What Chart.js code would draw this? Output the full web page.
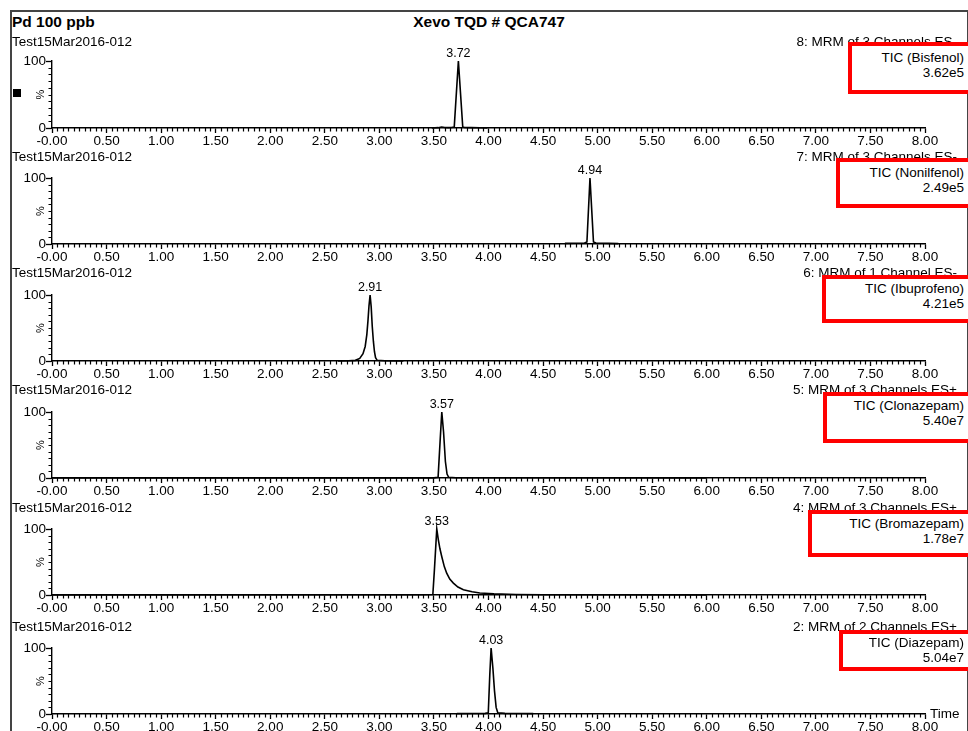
<!DOCTYPE html>
<html>
<head>
<meta charset="utf-8">
<script src="https://cdn.jsdelivr.net/npm/chart.js@4.4.1/dist/chart.umd.min.js"></script>
<style>
  html, body { margin: 0; padding: 0; background: #fff; }
  #page { position: relative; width: 968px; height: 731px; overflow: hidden; background: #fff;
          font-family: "Liberation Sans", Arial, sans-serif; color: #000; }
  #page canvas { position: absolute; left: 0; }
  .t { position: absolute; height: 16px; line-height: 16px; font-size: 13.5px; white-space: nowrap; }
  .b { font-weight: bold; font-size: 15.5px; }
  .box { position: absolute; border: 4px solid #f00; background: #fff; box-sizing: border-box; }
</style>
</head>
<body>
<div id="page"></div>
<script>
// ---- data ----
var xTickLabels = ['-0.00','0.50','1.00','1.50','2.00','2.50','3.00','3.50','4.00',
                   '4.50','5.00','5.50','6.00','6.50','7.00','7.50','8.00'];
var yTickLabels = ['0', '100'];

var sampleName = 'Test15Mar2016-012';
var functionNames = ['8: MRM of 3 Channels ES-', '7: MRM of 3 Channels ES-', '6: MRM of 1 Channel ES-',
                     '5: MRM of 3 Channels ES+', '4: MRM of 3 Channels ES+', '2: MRM of 2 Channels ES+'];
var compounds = ['TIC (Bisfenol)', 'TIC (Nonilfenol)', 'TIC (Ibuprofeno)',
                 'TIC (Clonazepam)', 'TIC (Bromazepam)', 'TIC (Diazepam)'];
var intensities = ['3.62e5', '2.49e5', '4.21e5', '5.40e7', '1.78e7', '5.04e7'];
var peakLabels = ['3.72', '4.94', '2.91', '3.57', '3.53', '4.03'];

var bisfenolTime = [3.48, 3.54, 3.57, 3.60, 3.63, 3.66, 3.686, 3.724, 3.764, 3.78, 3.84, 3.92, 3.99];
var bisfenolPct  = [0, 0.5, 1.5, 0.8, 0.5, 0.8, 1.5, 100, 1.5, 0.8, 0.5, 0.3, 0];

var nonilfenolTime = [4.70, 4.80, 4.88, 4.902, 4.93, 4.962, 4.985, 5.10, 5.19];
var nonilfenolPct  = [1, 1.2, 1.5, 3, 100, 3, 1.5, 1, 0.5];

var ibuprofenoTime = [2.62, 2.72, 2.78, 2.82, 2.85, 2.87, 2.885, 2.895, 2.905, 2.915,
                      2.925, 2.935, 2.945, 2.955, 2.965, 2.98, 3.05, 3.22];
var ibuprofenoPct  = [0, 0.3, 1, 4, 11, 22, 40, 60, 84, 100, 82, 52, 30, 14, 5, 1, 0.3, 0];

var clonazepamTime = [0, 3.50, 3.538, 3.558, 3.572, 3.588, 3.605, 3.62, 3.635, 3.70, 6.00];
var clonazepamPct  = [0, 0.2, 1, 60, 100, 70, 25, 6, 1, 0.3, 0];

var bromazepamTime = [0, 3.40, 3.49, 3.505, 3.526, 3.54, 3.555, 3.572, 3.595, 3.617, 3.645,
                      3.678, 3.72, 3.77, 3.85, 3.92, 4.05, 4.25, 4.50, 6.00];
var bromazepamPct  = [0, 0.3, 0.8, 40, 100, 84, 70, 58, 43, 33, 24, 18, 12, 8, 5, 3, 1.8, 0.8, 0.3, 0];

var diazepamTime = [3.71, 3.85, 3.97, 3.998, 4.012, 4.024, 4.04, 4.055, 4.07, 4.085, 4.15, 4.30, 4.41];
var diazepamPct  = [0.5, 0.8, 1, 2, 60, 100, 70, 35, 10, 2, 1, 0.8, 0.5];

var traces = [[bisfenolTime, bisfenolPct], [nonilfenolTime, nonilfenolPct], [ibuprofenoTime, ibuprofenoPct],
              [clonazepamTime, clonazepamPct], [bromazepamTime, bromazepamPct], [diazepamTime, diazepamPct]];

// ---- layout (pixels) ----
var top100 = [61, 178, 295, 412, 529, 648];
var zeroY  = [128, 244, 361, 478, 595, 714];
var headY  = [42, 157, 273, 390, 508, 627];
var boxes  = [[848, 42, 52], [836, 158, 50], [822, 275, 48], [823, 392, 51], [808, 510, 47], [839, 630, 41]];
var minorStep = 0.05, padTop = 18, axisH = 22;

Chart.defaults.font.family = '"Liberation Sans", Arial, sans-serif';
Chart.defaults.color = '#000';

var page = document.getElementById('page');

function addText(txt, x, y, cls, align) {
  var d = document.createElement('div');
  d.className = 't ' + (cls || '');
  d.textContent = txt;
  d.style.top = (y - 8) + 'px';
  if (align === 'right') d.style.right = (968 - x) + 'px';
  else if (align === 'center') { d.style.left = (x - 200) + 'px'; d.style.width = '400px'; d.style.textAlign = 'center'; }
  else d.style.left = x + 'px';
  page.appendChild(d);
  return d;
}

// draws the minor ticks, the % sign and the peak apex label
var decorations = {
  id: 'decorations',
  afterDraw: function(chart, args, opts) {
    var ctx = chart.ctx, xs = chart.scales.x, ys = chart.scales.y;
    ctx.save();
    ctx.strokeStyle = '#000';
    ctx.lineWidth = 1.2;
    ctx.beginPath();
    for (var v = minorStep; v < xs.max - 1e-9; v += minorStep) {
      if (Math.abs(v * 2 - Math.round(v * 2)) < 1e-6) continue;
      var px = Math.round(xs.getPixelForValue(v)) + 0.5;
      ctx.moveTo(px, xs.top);
      ctx.lineTo(px, xs.top + 3.5);
    }
    for (var w = 10; w < 100; w += 10) {
      var py = Math.round(ys.getPixelForValue(w)) + 0.5;
      ctx.moveTo(ys.right, py);
      ctx.lineTo(ys.right - 3.5, py);
    }
    ctx.stroke();

    ctx.fillStyle = '#000';
    ctx.font = '11px "Liberation Sans", Arial, sans-serif';
    ctx.textAlign = 'center';
    ctx.textBaseline = 'middle';
    ctx.translate(41, (ys.top + ys.bottom) / 2);
    ctx.rotate(-Math.PI / 2);
    ctx.fillText('%', 0, 0);
    ctx.setTransform(1, 0, 0, 1, 0, 0);

    var pts = chart.data.datasets[0].data, apex = pts[0];
    pts.forEach(function(p) { if (p.y > apex.y) apex = p; });
    ctx.font = '12.5px "Liberation Sans", Arial, sans-serif';
    ctx.textBaseline = 'bottom';
    ctx.fillText(opts.text, xs.getPixelForValue(apex.x), ys.getPixelForValue(apex.y) - 1);
    ctx.restore();
  }
};

function makePanel(i) {
  var canvas = document.createElement('canvas');
  var h = padTop + (zeroY[i] - top100[i]) + axisH;
  canvas.width = 968;
  canvas.height = h;
  canvas.style.top = (top100[i] - padTop) + 'px';
  page.appendChild(canvas);

  var pts = traces[i][0].map(function(t, k) { return { x: t, y: traces[i][1][k] }; });

  new Chart(canvas, {
    type: 'line',
    data: { datasets: [{ data: pts, borderColor: '#000', borderWidth: 1.6, pointRadius: 0, tension: 0, clip: false }] },
    options: {
      responsive: false,
      animation: false,
      layout: { padding: { top: padTop, right: 43, left: 0, bottom: 0 } },
      plugins: { legend: { display: false }, tooltip: { enabled: false }, decorations: { text: peakLabels[i] } },
      scales: {
        x: {
          type: 'linear', min: 0, max: 8,
          afterFit: function(s) { s.height = axisH; },
          border: { color: '#000', width: 1.4 },
          grid: { drawOnChartArea: false, tickLength: 5, color: '#000', tickWidth: 1.3 },
          ticks: { stepSize: 0.5, autoSkip: false, maxRotation: 0, minRotation: 0, padding: 0,
                   font: { size: 13.5 }, color: '#000',
                   callback: function(v, k) { return xTickLabels[k]; } }
        },
        y: {
          min: 0, max: 100,
          afterFit: function(s) { s.width = 52; },
          border: { color: '#000', width: 1.4 },
          grid: { drawOnChartArea: false, tickLength: 6, color: '#000', tickWidth: 1.3 },
          ticks: { stepSize: 100, autoSkip: false, padding: 0, font: { size: 13.5 }, color: '#000',
                   callback: function(v, k) { return yTickLabels[k]; } }
        }
      }
    },
    plugins: [decorations]
  });

  addText(sampleName, 12, headY[i]);
  addText(functionNames[i], 957, headY[i], '', 'right');
  var bx = document.createElement('div');
  bx.className = 'box';
  bx.style.left = boxes[i][0] + 'px';
  bx.style.top = boxes[i][1] + 'px';
  bx.style.height = boxes[i][2] + 'px';
  bx.style.width = (975 - boxes[i][0]) + 'px';
  page.appendChild(bx);
  addText(compounds[i], 964, headY[i] + 16, '', 'right');
  addText(intensities[i], 964, headY[i] + 31, '', 'right');
}

var frame = document.createElement('div');
frame.style.cssText = 'position:absolute;left:10px;top:10px;width:955px;height:800px;border:2px solid #444;';
page.appendChild(frame);

addText('Pd 100 ppb', 12, 22, 'b');
addText('Xevo TQD # QCA747', 489, 22, 'b', 'center');

for (var i = 0; i < 6; i++) makePanel(i);

addText('Time', 930, 714);

var mark = document.createElement('div');
mark.style.cssText = 'position:absolute;left:13px;top:89px;width:8px;height:8px;background:#000;';
page.appendChild(mark);
</script>
</body>
</html>
